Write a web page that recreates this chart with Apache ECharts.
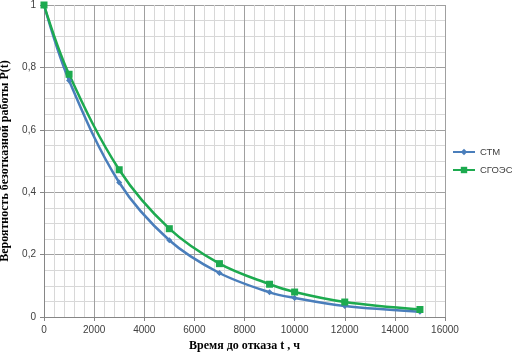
<!DOCTYPE html>
<html><head><meta charset="utf-8">
<script src="https://cdn.jsdelivr.net/npm/echarts@6/dist/echarts.min.js"></script>
<style>html,body{margin:0;padding:0;background:#fff}#c{width:512px;height:359px}</style>
</head><body><div id="c"></div>
<script>
const times = [0, 1000, 3000, 5000, 7000, 9000, 10000, 12000, 15000];
const ctm = [1, 0.758, 0.431, 0.246, 0.141, 0.079, 0.061, 0.035, 0.017];
const sgoes = [1, 0.778, 0.472, 0.283, 0.171, 0.105, 0.080, 0.048, 0.024];
const seriesNames = ['СТМ', 'СГОЭС'];
const xTitle = 'Время до отказа t , ч';
const yTitle = 'Вероятность безотказной работы P(t)';

const chart = echarts.init(document.getElementById('c'));
const pair = (xs, ys) => xs.map((x, i) => [x, ys[i]]);
chart.setOption({
  animation: false,
  grid: {left: 44, right: 67, top: 5, bottom: 42, containLabel: false, outerBoundsMode: 'none'},
  legend: {
    orient: 'vertical', left: 452, top: 147, padding: 0, itemGap: 8, itemWidth: 22, itemHeight: 8,
    textStyle: {fontFamily: 'Liberation Sans', fontSize: 9.5, color: '#404040'},
    data: seriesNames
  },
  xAxis: {
    type: 'value', min: 0, max: 16000, interval: 2000,
    name: xTitle, nameLocation: 'middle', nameGap: 21,
    nameTextStyle: {fontFamily: 'Liberation Serif', fontWeight: 'bold', fontSize: 12, color: '#000'},
    axisLine: {lineStyle: {color: '#868686'}},
    axisTick: {show: true, length: 4, lineStyle: {color: '#868686'}},
    axisLabel: {fontFamily: 'Liberation Sans', fontSize: 10, color: '#404040', margin: 8,
      formatter: v => String(v)},
    splitLine: {lineStyle: {color: '#a0a0a0', width: 1}},
    minorTick: {show: false, splitNumber: 5},
    minorSplitLine: {show: true, lineStyle: {color: '#d8d8d8', width: 1}}
  },
  yAxis: {
    type: 'value', min: 0, max: 1, interval: 0.2,
    name: yTitle, nameLocation: 'middle', nameGap: 29,
    nameTextStyle: {fontFamily: 'Liberation Serif', fontWeight: 'bold', fontSize: 12, color: '#000'},
    axisLine: {show: true, lineStyle: {color: '#868686'}},
    axisTick: {show: true, length: 4, lineStyle: {color: '#868686'}},
    axisLabel: {fontFamily: 'Liberation Sans', fontSize: 10, color: '#404040', margin: 8,
      formatter: v => String(v).replace('.', ',')},
    splitLine: {lineStyle: {color: '#a0a0a0', width: 1}},
    minorTick: {show: false, splitNumber: 4},
    minorSplitLine: {show: true, lineStyle: {color: '#d8d8d8', width: 1}}
  },
  series: [
    {name: seriesNames[0], type: 'line', smooth: 0.35, data: pair(times, ctm),
     symbol: 'diamond', symbolSize: 6,
     lineStyle: {color: '#4a7ebb', width: 2.5}, itemStyle: {color: '#4a7ebb'}},
    {name: seriesNames[1], type: 'line', smooth: 0.35, data: pair(times, sgoes),
     symbol: 'rect', symbolSize: 7,
     lineStyle: {color: '#1daa4f', width: 2.5}, itemStyle: {color: '#1daa4f'}}
  ]
});
</script></body></html>
